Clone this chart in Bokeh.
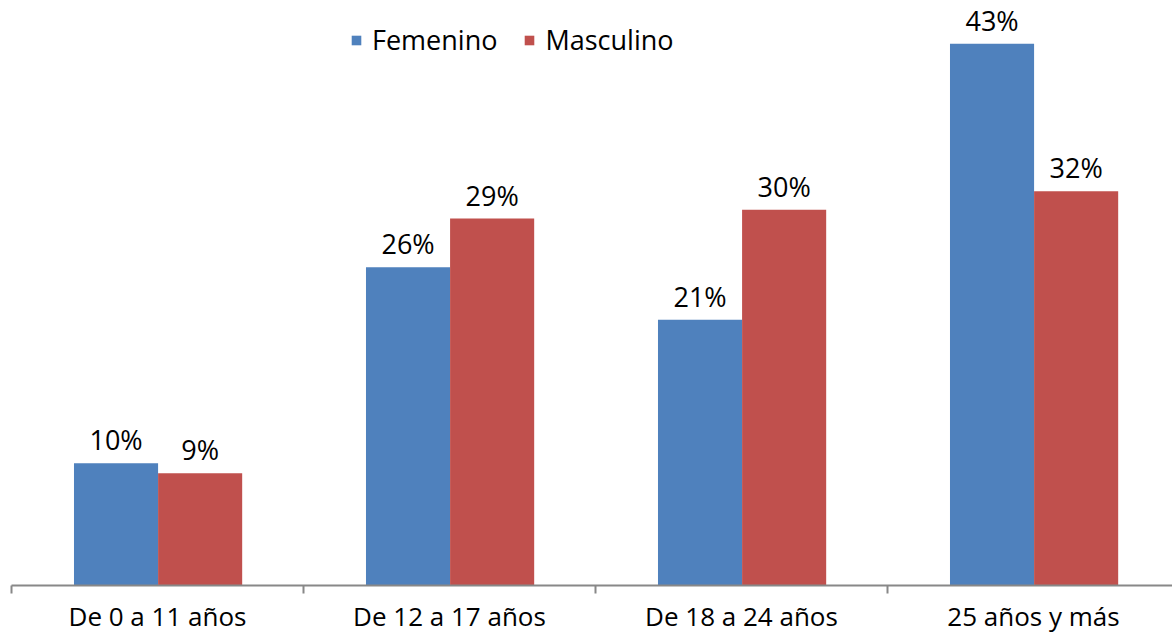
from bokeh.plotting import figure
from bokeh.models import ColumnDataSource, Range1d, FixedTicker, LabelSet, Legend, LegendItem
from bokeh.core.properties import value
from bokeh.embed import file_html
from bokeh.resources import INLINE

categories = ["De 0 a 11 años", "De 12 a 17 años", "De 18 a 24 años", "25 años y más"]
femenino = [9.8, 25.5, 21.3, 43.4]
masculino = [9.0, 29.4, 30.1, 31.6]

BLUE = "#4F81BD"
RED = "#C0504D"
FONT = "Open Sans"

idx = list(range(len(categories)))
src_f = ColumnDataSource(dict(
    x=[i + 0.358 for i in idx], top=femenino,
    label=[f"{int(v + 0.5)}%" for v in femenino]))
src_m = ColumnDataSource(dict(
    x=[i + 0.646 for i in idx], top=masculino,
    label=[f"{int(v + 0.5)}%" for v in masculino]))

p = figure(width=1172, height=633, output_backend="svg", toolbar_location=None,
           frame_width=1161, frame_height=577,
           x_range=Range1d(0, 1161 / 292), y_range=Range1d(0, 577 / 12.48),
           min_border_left=11, min_border_right=0, min_border_top=8, min_border_bottom=0)

rf = p.vbar(x="x", top="top", width=0.288, bottom=0, source=src_f, color=BLUE, line_color=None)
rm = p.vbar(x="x", top="top", width=0.288, bottom=0, source=src_m, color=RED, line_color=None)

for s in (src_f, src_m):
    p.add_layout(LabelSet(x="x", y="top", text="label", source=s, y_offset=13,
                          text_align="center", text_baseline="alphabetic",
                          text_font=value(FONT), text_font_size=value("27px"),
                          text_color="#000000"))

p.xaxis.ticker = FixedTicker(ticks=[i + 0.5 for i in idx], minor_ticks=[0, 1, 2, 3, 4])
p.xaxis.major_label_overrides = {i + 0.5: c for i, c in zip(idx, categories)}
p.xaxis.major_tick_line_color = None
p.xaxis.major_tick_out = 8
p.xaxis.major_tick_in = 0
p.xaxis.minor_tick_out = 8
p.xaxis.minor_tick_in = 0
p.xaxis.minor_tick_line_color = "#888888"
p.xaxis.minor_tick_line_width = 2
p.xaxis.axis_line_color = "#888888"
p.xaxis.axis_line_width = 2
p.xaxis.major_label_text_font = FONT
p.xaxis.major_label_text_font_size = "26px"
p.xaxis.major_label_text_color = "#000000"
p.xaxis.major_label_standoff = 4

p.yaxis.visible = False
p.xgrid.grid_line_color = None
p.ygrid.grid_line_color = None
p.outline_line_color = None

legend = Legend(items=[LegendItem(label="Femenino", renderers=[rf]),
                       LegendItem(label="Masculino", renderers=[rm])],
                orientation="horizontal", location=(339, 527),
                glyph_width=12, glyph_height=12, label_standoff=10, spacing=26,
                padding=0, margin=0, border_line_color=None, background_fill_alpha=0,
                label_text_font=FONT, label_text_font_size="27px", label_text_color="#000000")
p.add_layout(legend, "center")

open("out.html", "w").write(file_html(p, INLINE))
